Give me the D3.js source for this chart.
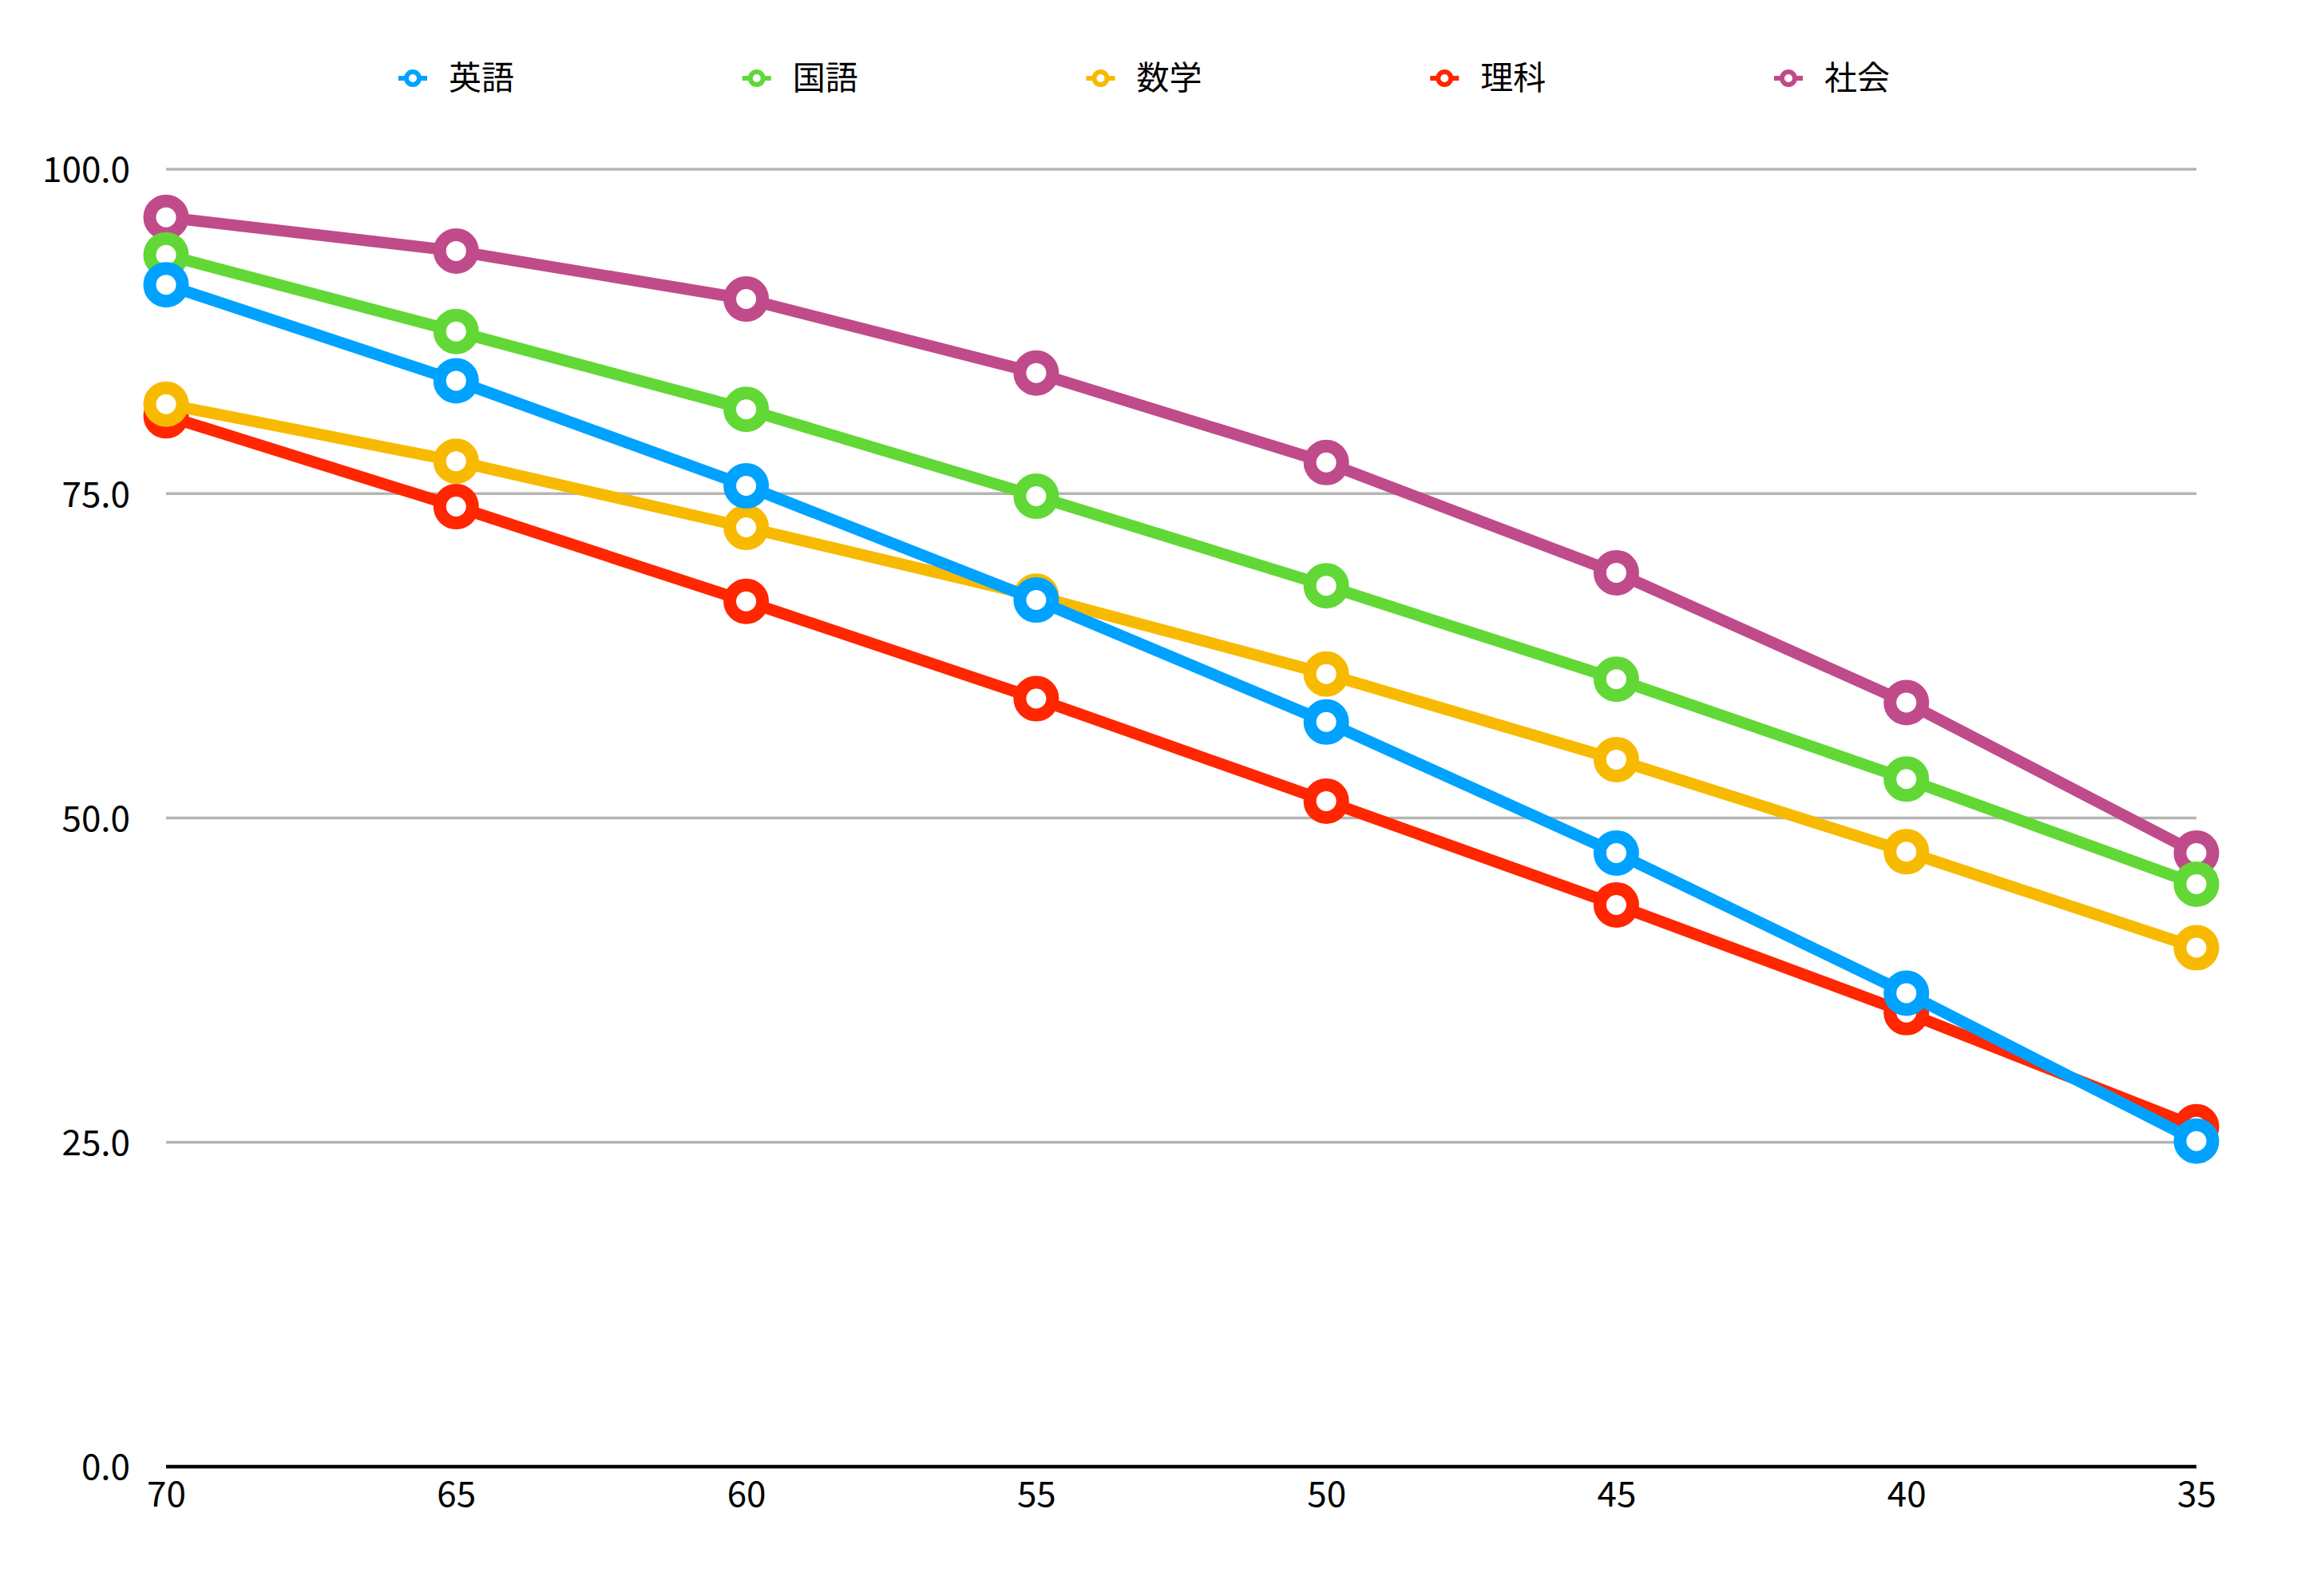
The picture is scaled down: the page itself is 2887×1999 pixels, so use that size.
<!DOCTYPE html>
<html>
<head>
<meta charset="utf-8">
<script src="https://cdn.jsdelivr.net/npm/d3@7"></script>
<style>
  html, body { margin: 0; padding: 0; background: #ffffff; }
  svg { display: block; }
  text { font-family: "Noto Sans CJK JP", "Noto Sans", sans-serif; fill: #000; }
</style>
</head>
<body>
<svg id="chart" width="2887" height="1999"></svg>
<script>
// ---- data ----
const categories = ["70", "65", "60", "55", "50", "45", "40", "35"];
const seriesNames = ["英語", "国語", "数学", "理科", "社会"];
const seriesColors = ["#00a2ff", "#61d836", "#f8ba00", "#ff2600", "#c04b8b"];
const englishValues = [91.1, 83.7, 75.6, 66.8, 57.4, 47.3, 36.5, 25.1];
const japaneseValues = [93.4, 87.5, 81.5, 74.8, 67.9, 60.7, 53.0, 44.9];
const mathValues = [81.9, 77.5, 72.4, 67.1, 61.1, 54.5, 47.4, 40.0];
const scienceValues = [81.0, 74.0, 66.7, 59.2, 51.3, 43.3, 35.0, 26.2];
const socialValues = [96.3, 93.7, 90.0, 84.3, 77.4, 68.9, 58.9, 47.3];
const yTicks = [0, 25, 50, 75, 100];

const seriesValues = [englishValues, japaneseValues, mathValues, scienceValues, socialValues];
const series = seriesNames.map((name, i) => ({
  name, color: seriesColors[i],
  values: seriesValues[i].map((v, j) => ({ cat: categories[j], v }))
}));

// ---- layout ----
const svg = d3.select("#chart");
svg.append("rect").attr("width", 2887).attr("height", 1999).attr("fill", "#fff");

const x = d3.scalePoint().domain(categories).range([208, 2751]);
const y = d3.scaleLinear().domain([0, 100]).range([1837, 212]);

// gridlines
svg.append("g").selectAll("line")
  .data(yTicks.filter(t => t > 0))
  .join("line")
  .attr("x1", 208).attr("x2", 2751)
  .attr("y1", d => y(d)).attr("y2", d => y(d))
  .attr("stroke", "#b4b4b4").attr("stroke-width", 3.5);

// y axis labels
const yAxis = svg.append("g")
  .attr("transform", "translate(208,0)")
  .call(d3.axisLeft(y).tickValues(yTicks).tickFormat(d3.format(".1f")).tickSize(0).tickPadding(45));
yAxis.select(".domain").remove();
yAxis.selectAll("text")
  .attr("font-size", 44)
  .attr("font-family", "'Noto Sans CJK JP', sans-serif")
  .attr("fill", "#000")
  .attr("dy", "0.36em");

// x axis
const xAxis = svg.append("g")
  .attr("transform", `translate(0,${y(0)})`)
  .call(d3.axisBottom(x).tickSize(0).tickPadding(19));
xAxis.select(".domain")
  .attr("stroke", "#000").attr("stroke-width", 4.5)
  .attr("d", `M208,0H2751`);
xAxis.selectAll("text")
  .attr("font-size", 44)
  .attr("font-family", "'Noto Sans CJK JP', sans-serif")
  .attr("fill", "#000");

// series lines & markers (drawn last-first so 英語 is on top)
const line = d3.line().x(d => x(d.cat)).y(d => y(d.v));
const drawOrder = series.slice().reverse();
drawOrder.forEach(s => {
  const g = svg.append("g");
  g.append("path")
    .datum(s.values)
    .attr("d", line)
    .attr("fill", "none")
    .attr("stroke", s.color)
    .attr("stroke-width", 14.5)
    .attr("stroke-linejoin", "round");
  g.selectAll("circle")
    .data(s.values)
    .join("circle")
    .attr("cx", d => x(d.cat))
    .attr("cy", d => y(d.v))
    .attr("r", 20.5)
    .attr("fill", "#fff")
    .attr("stroke", s.color)
    .attr("stroke-width", 16);
});

// legend
const legendX = d3.scalePoint().domain(seriesNames).range([517, 2240]);
const legend = svg.append("g").selectAll("g")
  .data(series)
  .join("g")
  .attr("transform", d => `translate(${legendX(d.name)},98)`);
legend.append("line")
  .attr("x1", -18).attr("x2", 18)
  .attr("stroke", d => d.color).attr("stroke-width", 6);
legend.append("circle")
  .attr("r", 8)
  .attr("fill", "#fff")
  .attr("stroke", d => d.color)
  .attr("stroke-width", 6);
legend.append("text")
  .attr("x", 45)
  .attr("y", 0)
  .attr("dy", "0.35em")
  .attr("font-size", 41)
  .text(d => d.name);
</script>
</body>
</html>
